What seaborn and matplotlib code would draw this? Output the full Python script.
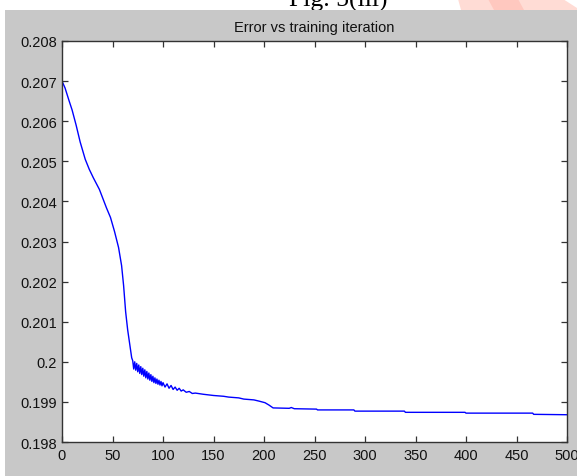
import numpy as np
import pandas as pd
import seaborn as sns
import matplotlib.pyplot as plt
from matplotlib.patches import Rectangle, Polygon

# values
decay_iter = [0, 3, 7, 10, 14, 18, 23, 27, 31, 37, 44, 48, 52, 56, 59, 61, 63, 65, 67, 69]
decay_err = [0.20700, 0.20683, 0.20651, 0.20628, 0.20590, 0.20548, 0.20505, 0.20480,
             0.20459, 0.20430, 0.20384, 0.20360, 0.20325, 0.20285, 0.20240, 0.20190,
             0.20125, 0.20080, 0.20045, 0.20010]

# noisy stretch just after the knee
noisy_iter = [70, 71, 72, 73, 74, 75, 76, 77, 78, 79, 80, 81, 82, 83, 84, 85, 86, 87, 88, 89,
              90, 91, 92, 93, 94, 95, 96, 97, 98, 99, 100, 102, 104, 106, 108, 110, 112, 114,
              116, 118, 120, 123, 126, 129, 132]
noisy_err = [0.20003, 0.19982, 0.20000, 0.19979, 0.19996, 0.19975, 0.19992, 0.19971, 0.19988, 0.19968,
             0.19984, 0.19964, 0.19980, 0.19960, 0.19976, 0.19957, 0.19972, 0.19954, 0.19968, 0.19951,
             0.19964, 0.19948, 0.19960, 0.19946, 0.19957, 0.19944, 0.19954, 0.19942, 0.19951, 0.19940,
             0.19948, 0.19937, 0.19945, 0.19934, 0.19941, 0.19931, 0.19937, 0.19929, 0.19934, 0.19927,
             0.19930, 0.19924, 0.19926, 0.19921, 0.19922]

tail_iter = [140, 150, 160, 165, 175, 180, 190, 195, 201, 205, 209, 225, 227, 230, 252, 253,
             289, 290, 339, 340, 399, 400, 466, 467, 500]
tail_err = [0.19919, 0.19916, 0.19914, 0.19912, 0.19910, 0.19907, 0.19905, 0.19902, 0.19898,
            0.19892, 0.19885, 0.19884, 0.19886, 0.19883, 0.19882, 0.19880, 0.19880, 0.19877,
            0.19877, 0.19874, 0.19874, 0.19872, 0.19872, 0.19869, 0.19868]

x_ticks = [0, 50, 100, 150, 200, 250, 300, 350, 400, 450, 500]
y_ticks = [0.198, 0.199, 0.200, 0.201, 0.202, 0.203, 0.204, 0.205, 0.206, 0.207, 0.208]
y_labels = ['0.198', '0.199', '0.2', '0.201', '0.202', '0.203', '0.204', '0.205', '0.206', '0.207', '0.208']

df = pd.DataFrame({
    'iteration': decay_iter + noisy_iter + tail_iter,
    'error': decay_err + noisy_err + tail_err,
})

sns.set_theme(style='white')
plt.rcParams['font.family'] = ['Liberation Sans', 'DejaVu Sans']

W, H = 577, 477
fig = plt.figure(figsize=(W / 100, H / 100), dpi=100, facecolor='white')

# grey MATLAB figure window below the cut-off caption
fig.text(338 / W, 1 - 7 / H, 'Fig. 5(iii)', family='Liberation Serif', fontsize=18.5,
         ha='center', va='baseline', color='black', zorder=0.5)
fig.patches.append(Polygon([(458 / W, 1), (563 / W, 1), (1, 1 - 9 / H), (1, 1 - 11 / H), (461 / W, 1 - 11 / H)],
                           closed=True, transform=fig.transFigure, facecolor='#ffdcd5',
                           edgecolor='none', zorder=0.6))
fig.patches.append(Polygon([(488 / W, 1), (518 / W, 1), (524 / W, 1 - 11 / H), (494 / W, 1 - 11 / H)],
                           closed=True, transform=fig.transFigure, facecolor='#ffc8bf',
                           edgecolor='none', zorder=0.65))
fig.patches.append(Rectangle((5 / W, 0), 1, 1 - 11 / H, transform=fig.transFigure,
                             facecolor='#c8c8c8', edgecolor='none', zorder=1))

ax = fig.add_axes([62 / W, 1 - 443 / H, 505 / W, 401 / H])
ax.set_zorder(2)
ax.set_facecolor('white')

sns.lineplot(data=df, x='iteration', y='error', ax=ax, color='#0000ff', linewidth=1.0,
             estimator=None, sort=False)

ax.set_xlim(0, 500)
ax.set_ylim(0.198, 0.208)
ax.set_xticks(x_ticks)
ax.set_xticklabels([str(t) for t in x_ticks])
ax.set_yticks(y_ticks)
ax.set_yticklabels(y_labels)
ax.set_xlabel('')
ax.set_ylabel('')
ax.set_title('Error vs training iteration', fontsize=10.5, color='#111111', pad=7)

ax.tick_params(direction='in', length=4.5, width=0.9, color='#333333',
               labelsize=10.5, labelcolor='#111111',
               top=True, right=True, bottom=True, left=True)
ax.tick_params(axis='y', pad=3.5)
ax.tick_params(axis='x', pad=4.5)
for side in ['top', 'bottom', 'left', 'right']:
    ax.spines[side].set_visible(True)
    ax.spines[side].set_color('#333333')
    ax.spines[side].set_linewidth(1.0)

fig.savefig('out.png', dpi=100, facecolor='white')
